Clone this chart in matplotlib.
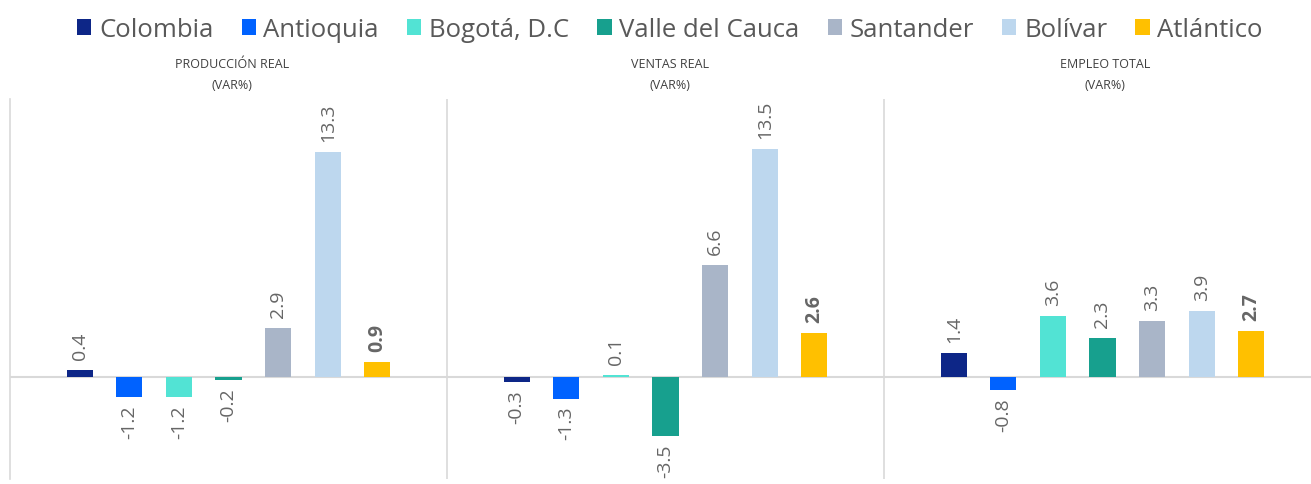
import numpy as np
import matplotlib
matplotlib.use('Agg')
import matplotlib.pyplot as plt
from matplotlib.patches import Patch

plt.rcParams['font.family'] = ['Open Sans', 'DejaVu Sans']

# data
groups = ['PRODUCCIÓN REAL\n(VAR%)', 'VENTAS REAL\n(VAR%)', 'EMPLEO TOTAL\n(VAR%)']
series = ['Colombia', 'Antioquia', 'Bogotá, D.C', 'Valle del Cauca', 'Santander', 'Bolívar', 'Atlántico']
colors = ['#0D2687', '#0062FF', '#52E3D4', '#17A08E', '#A9B5C8', '#BDD7EE', '#FFC000']
produccion = [0.4, -1.2, -1.2, -0.2, 2.9, 13.3, 0.9]
ventas = [-0.3, -1.3, 0.1, -3.5, 6.6, 13.5, 2.6]
empleo = [1.4, -0.8, 3.6, 2.3, 3.3, 3.9, 2.7]

values = np.array([produccion, ventas, empleo])

fig = plt.figure(figsize=(13.11, 4.85), dpi=100)
ax = fig.add_axes([10 / 1311, 5 / 485, 1 - 10 / 1311, 380 / 485])

x = np.arange(len(groups))
step = 0.1135
width = 0.06
label_color = '#666666'

for i, name in enumerate(series):
    pos = x + (i - 3) * step
    vals = values[:, i]
    ax.bar(pos, vals, width, color=colors[i], label=name, zorder=3)
    for xp, v in zip(pos, vals):
        weight = 'bold' if name == 'Atlántico' else 'normal'
        if v >= 0:
            ax.annotate(f'{v:.1f}', (xp, v), xytext=(0, 8), textcoords='offset points',
                        rotation=90, ha='center', va='bottom', fontsize=14,
                        color=label_color, fontweight=weight)
        else:
            ax.annotate(f'{v:.1f}', (xp, v), xytext=(0, -5), textcoords='offset points',
                        rotation=90, ha='center', va='top', fontsize=14,
                        color=label_color, fontweight=weight)

ax.set_xlim(-0.5, 2.5 - 10 / 437)
ax.set_ylim(-6.04, 16.45)
ax.axhline(0, color='#D9D9D9', lw=1.5, zorder=2)
for sep in [0.5, 1.5]:
    ax.axvline(sep, color='#D9D9D9', lw=1.2, zorder=1)

for s in ['top', 'right', 'bottom']:
    ax.spines[s].set_visible(False)
ax.spines['left'].set_color('#D9D9D9')
ax.spines['left'].set_linewidth(1.2)
ax.set_xticks([])
ax.set_yticks([])
ax.patch.set_alpha(0)

# group titles
for gx, title in zip([232, 670, 1105], groups):
    fig.text(gx / 1311, 1 - 75 / 485, title, ha='center', va='center',
             fontsize=9, color='#404040', linespacing=1.8)

handles = [Patch(facecolor=c, label=n) for c, n in zip(colors, series)]
fig.legend(handles=handles, loc='upper center', bbox_to_anchor=(0.511, 1.01), ncol=7,
           frameon=False, fontsize=18.5, handlelength=0.55, handleheight=0.55,
           handletextpad=0.3, columnspacing=1.1, labelcolor='#595959')

fig.savefig('out.png', dpi=100)
